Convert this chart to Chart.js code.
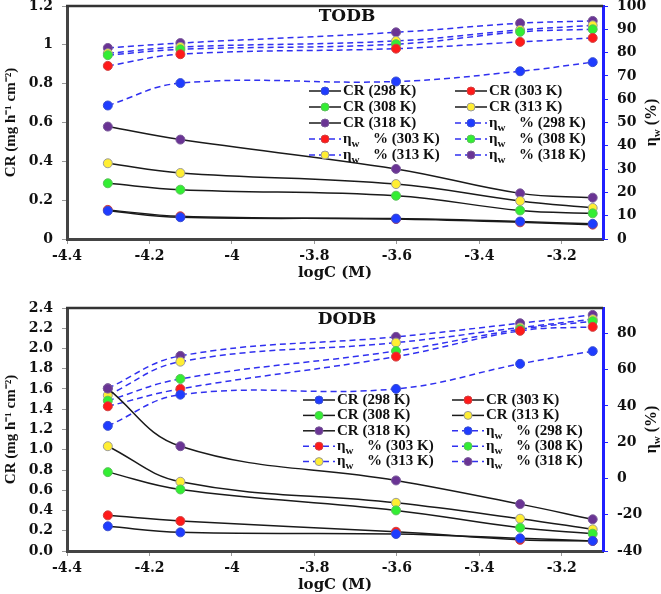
<!DOCTYPE html>
<html>
<head>
<meta charset="utf-8">
<script src="https://cdn.jsdelivr.net/npm/chart.js@4.4.1/dist/chart.umd.min.js"></script>
<style>
body { margin: 0; background: #fff; }
canvas { display: block; }
</style>
</head>
<body>
<canvas id="todb" width="661" height="290"></canvas>
<canvas id="dodb" width="661" height="304"></canvas>
<script>
// x values (logC) and series
const logC = [-4.301, -4.125, -3.602, -3.301, -3.125];
const temps = ['298 K', '303 K', '308 K', '313 K', '318 K'];

const todbCR = [
  [0.145, 0.112, 0.105, 0.090, 0.078],
  [0.150, 0.117, 0.103, 0.086, 0.074],
  [0.287, 0.254, 0.223, 0.147, 0.132],
  [0.390, 0.340, 0.283, 0.196, 0.160],
  [0.579, 0.512, 0.361, 0.235, 0.213]
];
const todbEta = [
  [57.3, 66.9, 67.6, 72.0, 75.9],
  [74.3, 79.3, 81.7, 84.6, 86.3],
  [78.9, 81.4, 83.6, 88.9, 90.0],
  [79.7, 82.4, 85.0, 89.7, 91.7],
  [82.0, 84.1, 88.7, 92.6, 93.6]
];
const dodbCR = [
  [0.244, 0.184, 0.168, 0.125, 0.100],
  [0.352, 0.296, 0.190, 0.110, 0.099],
  [0.779, 0.608, 0.401, 0.230, 0.171],
  [1.035, 0.684, 0.476, 0.319, 0.214],
  [1.604, 1.035, 0.697, 0.463, 0.313]
];
const dodbEta = [
  [29.0, 46.2, 49.4, 63.2, 70.2],
  [39.8, 49.4, 67.2, 81.4, 83.6],
  [42.9, 54.9, 70.3, 82.3, 86.7],
  [45.9, 64.4, 74.9, 83.2, 87.8],
  [49.8, 67.6, 78.1, 85.6, 90.2]
];

const xTicks = [-4.4, -4.2, -4, -3.8, -3.6, -3.4, -3.2];
const xTickLabels = ['-4.4', '-4.2', '-4', '-3.8', '-3.6', '-3.4', '-3.2'];
const todbCrTicks = [0, 0.2, 0.4, 0.6, 0.8, 1, 1.2];
const todbCrLabels = ['0', '0.2', '0.4', '0.6', '0.8', '1', '1.2'];
const todbEtaTicks = [0, 10, 20, 30, 40, 50, 60, 70, 80, 90, 100];
const dodbCrTicks = [0, 0.2, 0.4, 0.6, 0.8, 1.0, 1.2, 1.4, 1.6, 1.8, 2.0, 2.2, 2.4];
const dodbCrLabels = ['0.0', '0.2', '0.4', '0.6', '0.8', '1.0', '1.2', '1.4', '1.6', '1.8', '2.0', '2.2', '2.4'];
const dodbEtaTicks = [-40, -20, 0, 20, 40, 60, 80];

// marker colours
const dotFill = ['#1f3cff', '#ff1a1a', '#33ee33', '#ffee33', '#6a3494'];
const dotEdge = ['#3a4fd0', '#d04040', '#5cc05c', '#9a9a9a', '#7a5a9a'];

const tickFont = { family: '"DejaVu Serif"', size: 14, weight: 'bold' };
const serif = '"Liberation Serif", "Times New Roman", serif';

function crSet(vals, i) {
  return {
    label: 'CR (' + temps[i] + ')', kind: 'cr', temp: temps[i],
    data: logC.map((x, k) => ({ x: x, y: vals[k] })),
    yAxisID: 'y',
    borderColor: '#1a1a1a', borderWidth: 1.5, tension: 0.4,
    pointRadius: 4.5, pointHoverRadius: 4.5,
    pointBackgroundColor: dotFill[i], pointBorderColor: dotEdge[i], pointBorderWidth: 1
  };
}

function etaSet(vals, i) {
  return {
    label: 'ηw % (' + temps[i] + ')', kind: 'eta', temp: temps[i],
    data: logC.map((x, k) => ({ x: x, y: vals[k] })),
    yAxisID: 'y1',
    borderColor: '#3030f0', borderWidth: 1.5, borderDash: [6, 4], tension: 0.4,
    pointRadius: 4.5, pointHoverRadius: 4.5,
    pointBackgroundColor: dotFill[i], pointBorderColor: dotEdge[i], pointBorderWidth: 1
  };
}

// legend inside the plot, 2 columns
const insideLegend = {
  id: 'insideLegend',
  afterDatasetsDraw(chart, args, o) {
    const ctx = chart.ctx, a = chart.chartArea;
    ctx.save();
    chart.data.datasets.forEach((ds, i) => {
      const x = a.left + (i % 2 ? o.x2 : o.x1);
      const y = a.top + o.y0 + Math.floor(i / 2) * o.dy;
      ctx.strokeStyle = ds.borderColor;
      ctx.lineWidth = ds.borderWidth;
      ctx.setLineDash(ds.borderDash || []);
      ctx.beginPath(); ctx.moveTo(x, y); ctx.lineTo(x + 32, y); ctx.stroke();
      ctx.setLineDash([]);
      ctx.beginPath(); ctx.arc(x + 16, y, 4, 0, Math.PI * 2);
      ctx.fillStyle = ds.pointBackgroundColor; ctx.fill();
      ctx.lineWidth = 1; ctx.strokeStyle = ds.pointBorderColor; ctx.stroke();

      const tx = x + 34;
      ctx.fillStyle = '#111';
      ctx.textBaseline = 'middle';
      ctx.font = 'bold 15px ' + serif;
      if (ds.kind === 'cr') {
        ctx.fillText('CR (' + ds.temp + ')', tx, y);
      } else {
        ctx.fillText('η', tx, y);
        const w = ctx.measureText('η').width;
        ctx.font = 'bold 11px ' + serif;
        ctx.fillText('w', tx + w, y + 5);
        ctx.font = 'bold 15px ' + serif;
        ctx.fillText('% (' + ds.temp + ')', tx + 30, y);
      }
    });
    ctx.restore();
  }
};

// frame top line, panel title and right axis title
const decor = {
  id: 'decor',
  afterDraw(chart, args, o) {
    const ctx = chart.ctx, a = chart.chartArea;
    ctx.save();
    ctx.strokeStyle = '#333';
    ctx.lineWidth = 2.5;
    ctx.beginPath(); ctx.moveTo(a.left - 1, a.top); ctx.lineTo(a.right, a.top); ctx.stroke();

    ctx.fillStyle = '#111';
    ctx.textAlign = 'center';
    ctx.textBaseline = 'middle';
    ctx.font = 'bold 17px "DejaVu Serif"';
    ctx.fillText(o.name, a.left + o.nameX, a.top + o.nameY);

    ctx.translate(chart.width - 9, (a.top + a.bottom) / 2);
    ctx.rotate(-Math.PI / 2);
    ctx.textAlign = 'left';
    ctx.font = 'bold 16px ' + serif;
    const w1 = ctx.measureText('η').width;
    const w3 = ctx.measureText(' (%)').width;
    ctx.font = 'bold 11px ' + serif;
    const w2 = ctx.measureText('w').width;
    let sx = -(w1 + w2 + w3) / 2;
    ctx.font = 'bold 16px ' + serif;
    ctx.fillText('η', sx, 0);
    ctx.font = 'bold 11px ' + serif;
    ctx.fillText('w', sx + w1, 5);
    ctx.font = 'bold 16px ' + serif;
    ctx.fillText(' (%)', sx + w1 + w2, 0);
    ctx.restore();
  }
};

function makeChart(id, p) {
  const datasets = p.cr.map(crSet).concat(p.eta.map(etaSet));
  return new Chart(document.getElementById(id), {
    type: 'line',
    data: { datasets: datasets },
    plugins: [insideLegend, decor],
    options: {
      responsive: false,
      animation: false,
      layout: { padding: { top: p.top, left: 0, right: 0, bottom: 0 } },
      plugins: {
        legend: { display: false },
        tooltip: { enabled: false },
        insideLegend: p.legend,
        decor: { name: p.name, nameX: 280, nameY: p.nameY }
      },
      scales: {
        x: {
          type: 'linear', min: -4.4, max: -3.1,
          afterBuildTicks: s => { s.ticks = xTicks.map(v => ({ value: v })); },
          afterFit: s => { s.height = p.xh; s.paddingLeft = 0; s.paddingRight = 0; },
          ticks: {
            autoSkip: false, maxRotation: 0, font: tickFont, color: '#111', padding: 4,
            callback: v => xTickLabels[xTicks.indexOf(v)]
          },
          grid: { drawOnChartArea: false, tickLength: 5, color: '#999' },
          border: { color: '#444', width: 3 },
          title: {
            display: true, text: 'logC (M)', color: '#111',
            font: { family: '"DejaVu Serif"', size: 15, weight: 'bold' },
            padding: { top: 0, bottom: p.titlePad }
          }
        },
        y: {
          position: 'left', min: 0, max: p.crMax,
          afterBuildTicks: s => { s.ticks = p.crTicks.map(v => ({ value: v })); },
          afterFit: s => { s.width = 67; s.paddingTop = 0; s.paddingBottom = 0; },
          ticks: {
            font: tickFont, color: '#111', padding: 9,
            callback: v => p.crLabels[p.crTicks.indexOf(v)]
          },
          grid: { drawOnChartArea: false, tickLength: 5, color: '#999' },
          border: { color: '#444', width: 3 },
          title: {
            display: true, text: 'CR (mg h⁻¹ cm⁻²)', color: '#111',
            font: { family: serif, size: 15, weight: 'bold' },
            padding: { top: 2, bottom: 0 }
          }
        },
        y1: {
          position: 'right', min: p.etaMin, max: p.etaMax,
          afterBuildTicks: s => { s.ticks = p.etaTicks.map(v => ({ value: v })); },
          afterFit: s => { s.width = 58; s.paddingTop = 0; s.paddingBottom = 0; },
          ticks: { font: tickFont, color: '#111', padding: 9 },
          grid: { drawOnChartArea: false, tickLength: 5, color: '#2020ff' },
          border: { color: '#2020ff', width: 3 }
        }
      }
    }
  });
}

makeChart('todb', {
  cr: todbCR, eta: todbEta, name: 'TODB', nameY: 11,
  top: 6, xh: 51, titlePad: 8,
  crMax: 1.2, crTicks: todbCrTicks, crLabels: todbCrLabels,
  etaMin: 0, etaMax: 100, etaTicks: todbEtaTicks,
  legend: { x1: 242, x2: 388, y0: 85, dy: 16 }
});

makeChart('dodb', {
  cr: dodbCR, eta: dodbEta, name: 'DODB', nameY: 12,
  top: 18, xh: 43, titlePad: 0,
  crMax: 2.4, crTicks: dodbCrTicks, crLabels: dodbCrLabels,
  etaMin: -40, etaMax: 94, etaTicks: dodbEtaTicks,
  legend: { x1: 236, x2: 385, y0: 92, dy: 15.4 }
});
</script>
</body>
</html>
